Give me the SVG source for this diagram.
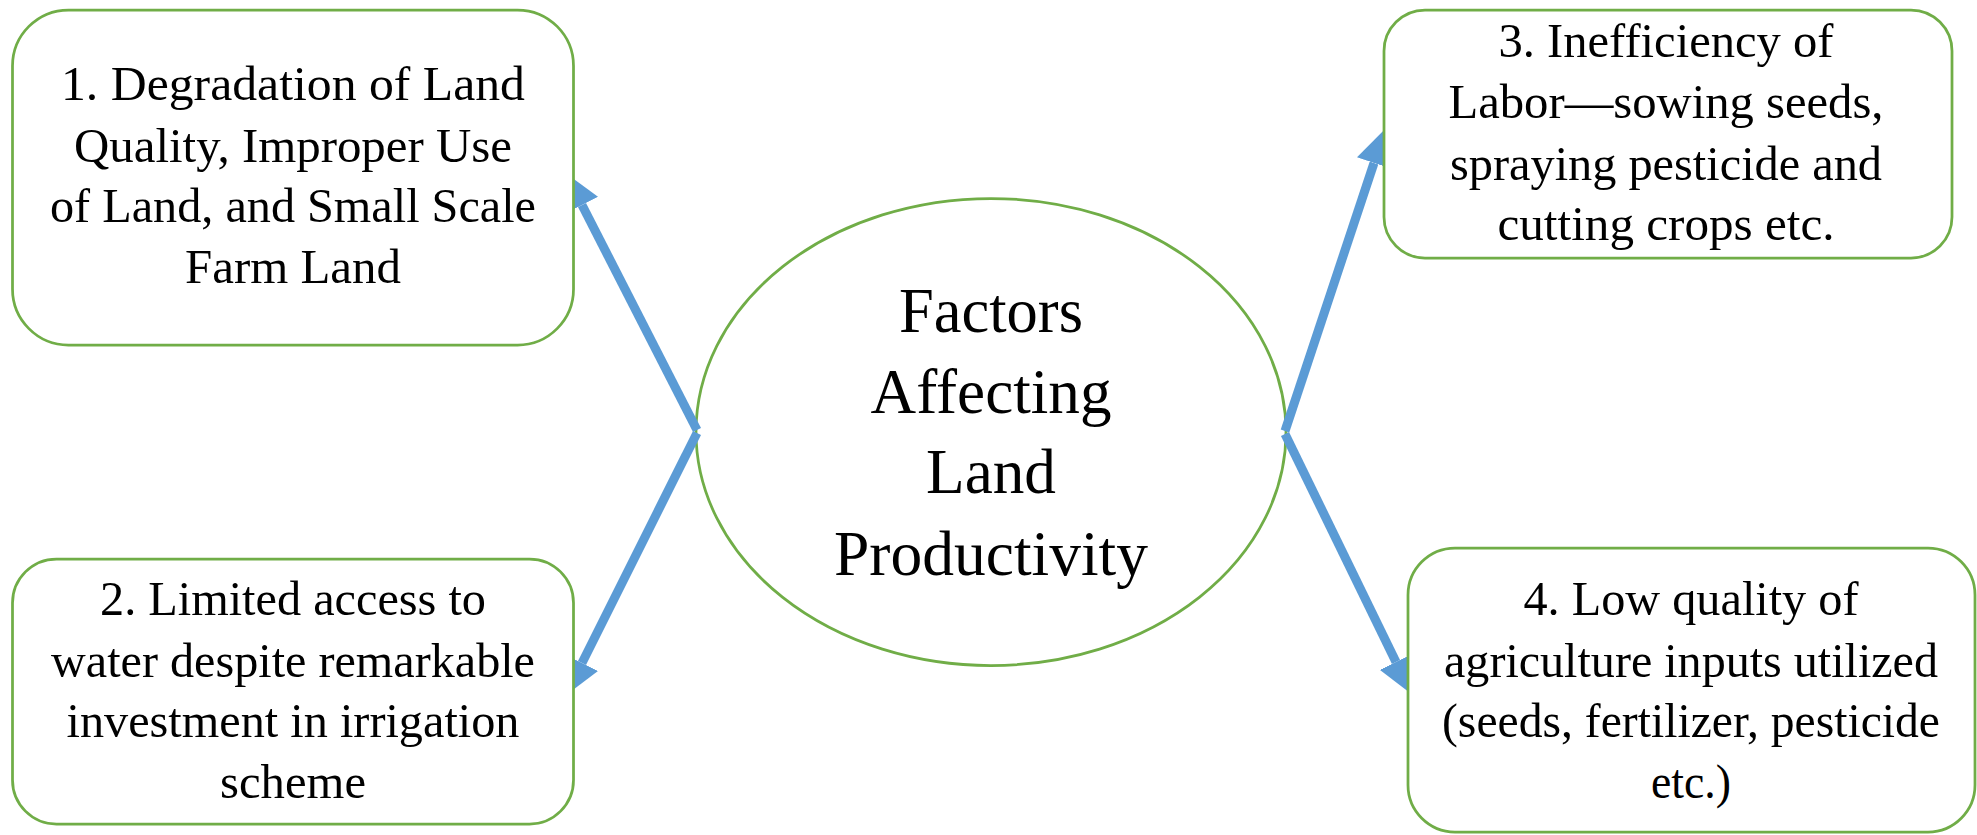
<svg xmlns="http://www.w3.org/2000/svg" width="1977" height="835" viewBox="0 0 1977 835">
<style>
.box{fill:#ffffff;stroke:#70AD47;stroke-width:2.75}
.t{font-family:"Liberation Serif","Times New Roman",serif;font-size:49px;fill:#000000;text-anchor:middle}
.tc{font-family:"Liberation Serif","Times New Roman",serif;font-size:63px;fill:#000000;text-anchor:middle}
.conn{stroke:#5B9BD5;stroke-width:9;fill:none;stroke-linecap:butt;marker-end:url(#ah)}
</style>
<defs>
<marker id="ah" viewBox="0 0 4 4" markerWidth="4" markerHeight="4" refX="0" refY="2" orient="auto" markerUnits="strokeWidth">
<path d="M0,0 L4,2 L0,4 z" fill="#5B9BD5"/>
</marker>
</defs>
<rect width="1977" height="835" fill="#ffffff"/>
<g id="center">
<ellipse class="box" cx="991" cy="432" rx="295" ry="233.5"/>
<text class="tc" x="991" y="332" textLength="184" lengthAdjust="spacingAndGlyphs">Factors</text>
<text class="tc" x="991" y="413" textLength="241" lengthAdjust="spacingAndGlyphs">Affecting</text>
<text class="tc" x="991" y="493" textLength="130" lengthAdjust="spacingAndGlyphs">Land</text>
<text class="tc" x="991" y="575" textLength="314" lengthAdjust="spacingAndGlyphs">Productivity</text>
</g>
<g id="connectors">
<line class="conn" x1="697" y1="430" x2="582" y2="205"/>
<line class="conn" x1="697" y1="433" x2="582" y2="663"/>
<line class="conn" x1="1285" y1="431" x2="1374" y2="163"/>
<line class="conn" x1="1285" y1="434" x2="1396" y2="662"/>
</g>
<g id="node1">
<rect class="box" x="12.5" y="10" width="561" height="335" rx="56" ry="56"/>
<text class="t" x="293" y="100" textLength="464" lengthAdjust="spacingAndGlyphs">1. Degradation of  Land</text>
<text class="t" x="293" y="162" textLength="438" lengthAdjust="spacingAndGlyphs">Quality, Improper Use</text>
<text class="t" x="293" y="222" textLength="486" lengthAdjust="spacingAndGlyphs">of  Land, and Small Scale</text>
<text class="t" x="293" y="283" textLength="216" lengthAdjust="spacingAndGlyphs">Farm Land</text>
</g>
<g id="node2">
<rect class="box" x="12.5" y="559" width="561" height="265" rx="44" ry="44"/>
<text class="t" x="293" y="615" textLength="386" lengthAdjust="spacingAndGlyphs">2. Limited access to</text>
<text class="t" x="293" y="677" textLength="484" lengthAdjust="spacingAndGlyphs">water despite remarkable</text>
<text class="t" x="293" y="737" textLength="453" lengthAdjust="spacingAndGlyphs">investment in irrigation</text>
<text class="t" x="293" y="798" textLength="146" lengthAdjust="spacingAndGlyphs">scheme</text>
</g>
<g id="node3">
<rect class="box" x="1384" y="10" width="568" height="248" rx="41" ry="41"/>
<text class="t" x="1666" y="57" textLength="335" lengthAdjust="spacingAndGlyphs">3. Inefficiency of</text>
<text class="t" x="1666" y="118" textLength="435" lengthAdjust="spacingAndGlyphs">Labor—sowing seeds,</text>
<text class="t" x="1666" y="180" textLength="432" lengthAdjust="spacingAndGlyphs">spraying pesticide and</text>
<text class="t" x="1666" y="240" textLength="337" lengthAdjust="spacingAndGlyphs">cutting crops etc.</text>
</g>
<g id="node4">
<rect class="box" x="1408" y="548" width="567" height="284" rx="47" ry="47"/>
<text class="t" x="1691" y="615" textLength="335" lengthAdjust="spacingAndGlyphs">4. Low quality of</text>
<text class="t" x="1691" y="677" textLength="494" lengthAdjust="spacingAndGlyphs">agriculture  inputs utilized</text>
<text class="t" x="1691" y="737" textLength="498" lengthAdjust="spacingAndGlyphs">(seeds, fertilizer,  pesticide</text>
<text class="t" x="1691" y="798" textLength="80" lengthAdjust="spacingAndGlyphs">etc.)</text>
</g>
</svg>
